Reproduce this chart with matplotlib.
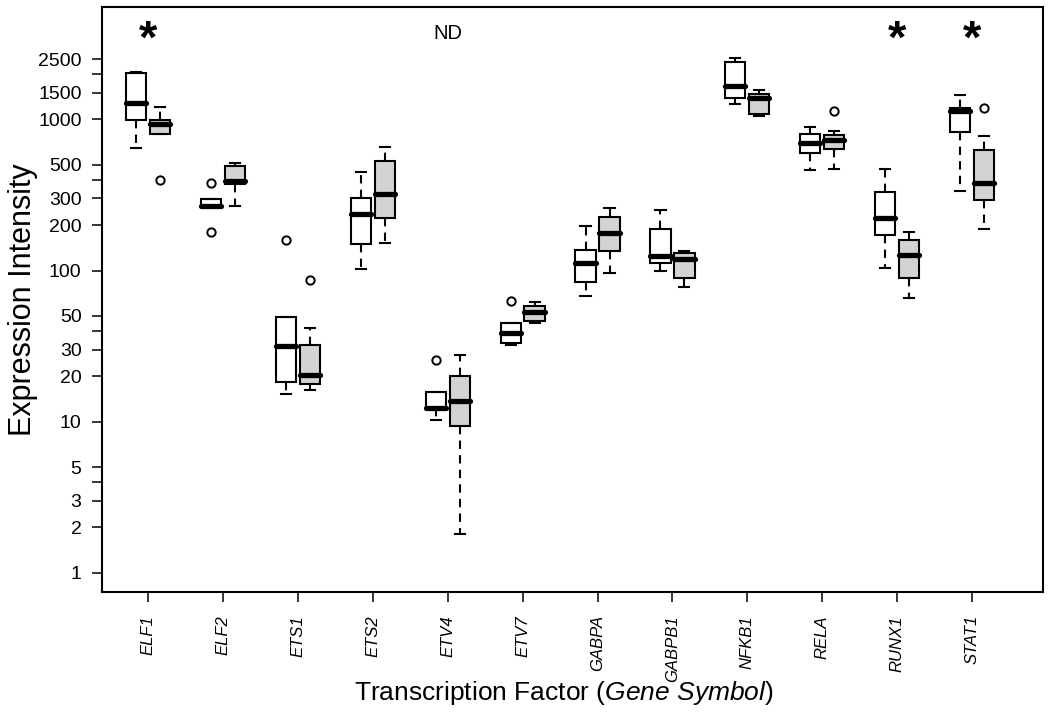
import matplotlib
matplotlib.use("Agg")
import matplotlib.pyplot as plt
from matplotlib.ticker import NullLocator, FixedLocator, FixedFormatter

# ---------------- data ----------------
genes = ['ELF1', 'ELF2', 'ETS1', 'ETS2', 'ETV4', 'ETV7', 'GABPA', 'GABPB1',
         'NFKB1', 'RELA', 'RUNX1', 'STAT1']

# group A (white boxes)
whislo_a = [650, 267, 15.2, 103, 10.2, 32.0, 68.3, 99, 1257, 462, 104, 335]
q1_a = [989, 267, 18.2, 149, 12.3, 33.0, 84.2, 112, 1393, 598, 173, 829]
med_a = [1276, 269, 31.5, 235, 12.3, 38.3, 112, 124, 1672, 701, 224, 1135]
q3_a = [2038, 298, 49.4, 301, 15.7, 44.6, 137, 189, 2411, 796, 330, 1195]
whishi_a = [2070, 298, 49.4, 448, 15.7, 44.6, 196, 250, 2547, 889, 467, 1442]
fliers_a = [[], [379, 180], [159], [], [25.7], [62.6], [], [], [], [], [], []]

# group B (grey boxes)
whislo_b = [800, 269, 16.3, 151, 1.81, 45.0, 96.0, 77.5, 1052, 472, 65.3, 188]
q1_b = [804, 371, 17.8, 222, 9.3, 46.4, 134, 89, 1079, 640, 89, 294]
med_b = [931, 394, 20.4, 319, 13.6, 53.3, 177, 120, 1377, 726, 127, 377]
q3_b = [989, 491, 32.0, 527, 20.1, 57.8, 227, 130, 1480, 792, 160, 626]
whishi_b = [1214, 517, 41.5, 656, 27.4, 61.7, 261, 134, 1556, 833, 181, 775]
fliers_b = [[399], [], [86.8], [], [], [], [], [], [], [1142], [], [1188]]

significant = ['ELF1', 'RUNX1', 'STAT1']
not_detected = ['ETV4']

ytick_values = [1, 2, 3, 4, 5, 10, 20, 30, 40, 50, 100, 200, 300, 400, 500,
                1000, 1500, 2000, 2500]
ytick_labels = ['1', '2', '3', '', '5', '10', '20', '30', '', '50', '100',
                '200', '300', '', '500', '1000', '1500', '', '2500']

# ---------------- plot ----------------
plt.rcParams['font.family'] = ['Liberation Sans', 'DejaVu Sans']
plt.rcParams['mathtext.fontset'] = 'custom'
plt.rcParams['mathtext.rm'] = 'Liberation Sans'
plt.rcParams['mathtext.it'] = 'Liberation Sans:italic'

fig = plt.figure(figsize=(10.5, 7.18), dpi=100)
ax = fig.add_axes([101.7 / 1050, 1 - 592.3 / 718, (1043.3 - 101.7) / 1050,
                   (592.3 - 7.3) / 718])


def make_stats(lo, q1, med, q3, hi, fl):
    return [dict(whislo=a, q1=b, med=c, q3=d, whishi=e, fliers=f)
            for a, b, c, d, e, f in zip(lo, q1, med, q3, hi, fl)]


off = 0.16
width = 0.27
x = list(range(len(genes)))

common = dict(
    widths=width, showfliers=True, patch_artist=True, manage_ticks=False,
    medianprops=dict(color='black', linewidth=3.8, solid_capstyle='round'),
    whiskerprops=dict(color='black', linewidth=1.5, linestyle=(0, (4, 3))),
    capprops=dict(color='black', linewidth=1.5),
    flierprops=dict(marker='o', markerfacecolor='none', markeredgecolor='black',
                    markersize=6, markeredgewidth=1.4),
)

ax.bxp(make_stats(whislo_a, q1_a, med_a, q3_a, whishi_a, fliers_a),
       positions=[i - off for i in x],
       boxprops=dict(facecolor='white', edgecolor='black', linewidth=1.5),
       **common)
ax.bxp(make_stats(whislo_b, q1_b, med_b, q3_b, whishi_b, fliers_b),
       positions=[i + off for i in x],
       boxprops=dict(facecolor='#d3d3d3', edgecolor='black', linewidth=1.5),
       **common)

ax.set_yscale('log')
ax.set_ylim(0.742, 5520)
ax.set_xlim(-0.618, 11.95)

ax.yaxis.set_major_locator(FixedLocator(ytick_values))
ax.yaxis.set_major_formatter(FixedFormatter(ytick_labels))
ax.yaxis.set_minor_locator(NullLocator())
ax.set_xticks(x)
ax.set_xticklabels(genes, rotation=90, fontstyle='italic', fontsize=12,
                   va='top', ha='center')

ax.tick_params(axis='y', length=7.5, width=1.1, labelsize=14, pad=7)
ax.tick_params(axis='x', length=7.5, width=1.1, pad=9)
for s in ax.spines.values():
    s.set_linewidth(1.5)

ax.set_ylabel('Expression Intensity', fontsize=22)
ax.yaxis.set_label_coords(-0.068, 0.5)

fig.text(564 / 1050, 1 - 700 / 718,
         'Transcription Factor ($\\mathit{Gene\\ Symbol}$)', fontsize=19,
         ha='center', va='baseline')

for g in significant:
    i = genes.index(g)
    ax.text(i, 0.98, '*', transform=ax.get_xaxis_transform(), fontsize=34,
            fontweight='bold', ha='center', va='top')
for g in not_detected:
    i = genes.index(g)
    ax.text(i, 0.955, 'ND', transform=ax.get_xaxis_transform(), fontsize=14.5,
            ha='center', va='center')

fig.savefig('out.png', dpi=100)
